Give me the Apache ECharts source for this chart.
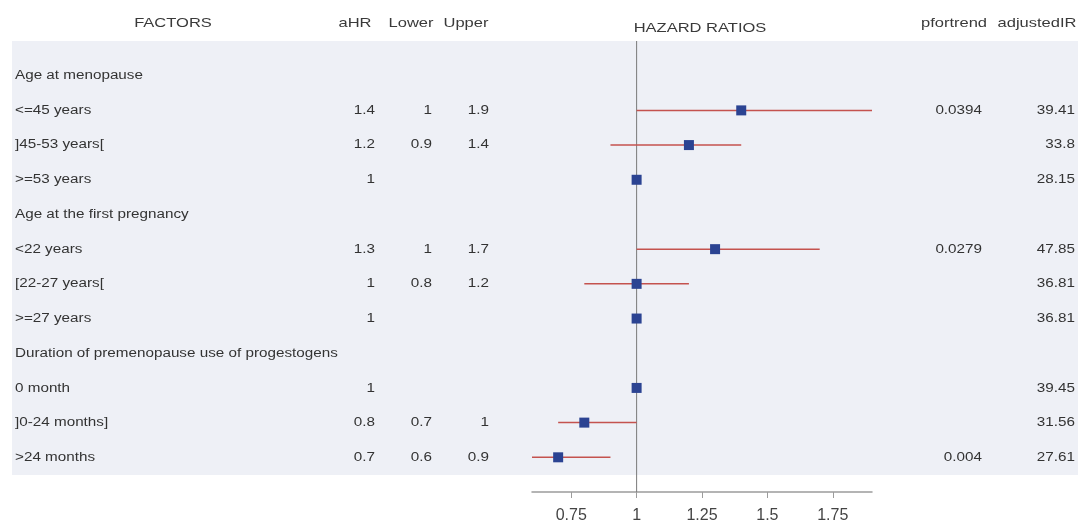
<!DOCTYPE html>
<html>
<head>
<meta charset="utf-8">
<title>Hazard ratios</title>
<script src="https://cdn.jsdelivr.net/npm/echarts@6/dist/echarts.min.js"></script>
<style>
  html, body { margin: 0; padding: 0; background: #fff; }
  #chart { width: 1083px; height: 528px; }
</style>
</head>
<body>
<div id="chart"></div>
<script>
// table rows, top to bottom (row 1 = first line inside the panel)
const factors = [
  'Age at menopause',
  '<=45 years',
  ']45-53 years[',
  '>=53 years',
  'Age at the first pregnancy',
  '<22 years',
  '[22-27 years[',
  '>=27 years',
  'Duration of premenopause use of progestogens',
  '0 month',
  ']0-24 months]',
  '>24 months',
];
const aHR = [null, 1.4, 1.2, 1, null, 1.3, 1, 1, null, 1, 0.8, 0.7];
const lower = [null, 1, 0.9, null, null, 1, 0.8, null, null, null, 0.7, 0.6];
const upper = [null, 1.9, 1.4, null, null, 1.7, 1.2, null, null, null, 1, 0.9];
const pForTrend = [null, 0.0394, null, null, null, 0.0279, null, null, null, null, null, 0.004];
const adjustedIR = [null, 39.41, 33.8, 28.15, null, 47.85, 36.81, 36.81, null, 39.45, 31.56, 27.61];
const xTicks = [0.75, 1, 1.25, 1.5, 1.75];
const refValue = 1;

const FONT = '"Liberation Sans", Arial, sans-serif';
const STRETCH = 1.27;
const TEXT_COLOR = '#333';

const rowOf = (i) => i + 1;

// one column of text on the panel grid (x axis there is in page pixels)
const textColumn = (values, x, align) => {
  const items = [];
  const texts = [];
  values.forEach((v, i) => {
    if (v === null) return;
    items.push([x, rowOf(i)]);
    texts.push(String(v));
  });
  return {
    type: 'custom',
    xAxisIndex: 0,
    yAxisIndex: 0,
    silent: true,
    z: 2,
    data: items,
    renderItem: (params, api) => {
      const p = api.coord([api.value(0), api.value(1)]);
      return {
        type: 'text',
        x: p[0],
        y: p[1],
        scaleX: STRETCH,
        style: {
          text: texts[params.dataIndex],
          fontSize: 12,
          fontFamily: FONT,
          fill: TEXT_COLOR,
          align,
          verticalAlign: 'middle',
        },
      };
    },
  };
};

const header = (text, x, y) => ({
  type: 'text',
  x,
  y,
  scaleX: STRETCH,
  silent: true,
  style: {
    text,
    fontSize: 13,
    fontFamily: FONT,
    fill: '#3a3a3a',
    align: 'center',
    verticalAlign: 'middle',
  },
});

const pointData = [];
const ciData = [];
aHR.forEach((v, i) => {
  if (v !== null) pointData.push([v, rowOf(i)]);
  if (lower[i] !== null) ciData.push([lower[i], upper[i], rowOf(i)]);
});

const chart = echarts.init(document.getElementById('chart'));

chart.setOption({
  animation: false,
  backgroundColor: '#fff',
  grid: [
    {
      // shaded table panel
      left: 12,
      right: 5,
      top: 41,
      bottom: 53,
      show: true,
      backgroundColor: '#eef0f6',
      borderWidth: 0,
      containLabel: false,
      outerBoundsMode: 'none',
    },
    {
      // forest plot
      left: 532,
      right: 211,
      top: 41,
      bottom: 36,
      containLabel: false,
      outerBoundsMode: 'none',
    },
  ],
  xAxis: [
    { type: 'value', gridIndex: 0, min: 12, max: 1078, show: false },
    {
      type: 'value',
      gridIndex: 1,
      position: 'bottom',
      min: 0.6,
      max: 1.9,
      splitLine: { show: false },
      axisLine: { show: true, onZero: false, lineStyle: { color: '#9c9c9c', width: 1.5 } },
      axisTick: {
        show: true,
        length: 6,
        customValues: xTicks,
        lineStyle: { color: '#9c9c9c' },
      },
      axisLabel: {
        customValues: xTicks,
        margin: 16,
        fontSize: 16,
        fontFamily: FONT,
        color: '#444',
      },
    },
  ],
  yAxis: [
    { type: 'value', gridIndex: 0, inverse: true, min: 0, max: 12.5, show: false },
    { type: 'value', gridIndex: 1, inverse: true, min: 0, max: 13, show: false },
  ],
  graphic: [
    header('FACTORS', 173, 23),
    header('aHR', 355, 23),
    header('Lower', 411, 23),
    header('Upper', 466, 23),
    header('HAZARD RATIOS', 700, 28),
    header('pfortrend', 954, 23),
    header('adjustedIR', 1037, 23),
  ],
  series: [
    textColumn(factors, 15, 'left'),
    textColumn(aHR, 375, 'right'),
    textColumn(lower, 432, 'right'),
    textColumn(upper, 489, 'right'),
    textColumn(pForTrend, 982, 'right'),
    textColumn(adjustedIR, 1075, 'right'),
    {
      // reference line at HR = 1
      type: 'custom',
      xAxisIndex: 1,
      yAxisIndex: 1,
      silent: true,
      z: 1,
      data: [[refValue]],
      renderItem: (params, api) => {
        const top = api.coord([api.value(0), 0]);
        const bottom = api.coord([api.value(0), 13]);
        return {
          type: 'line',
          shape: { x1: top[0], y1: top[1], x2: bottom[0], y2: bottom[1] },
          style: { stroke: '#7a7a7a', lineWidth: 1 },
        };
      },
    },
    {
      type: 'custom',
      name: 'CI',
      xAxisIndex: 1,
      yAxisIndex: 1,
      silent: true,
      z: 2,
      encode: { x: [0, 1], y: 2 },
      data: ciData,
      renderItem: (params, api) => {
        const a = api.coord([api.value(0), api.value(2)]);
        const b = api.coord([api.value(1), api.value(2)]);
        return {
          type: 'line',
          shape: { x1: a[0], y1: a[1], x2: b[0], y2: b[1] },
          style: { stroke: '#c4524e', lineWidth: 1.5 },
        };
      },
    },
    {
      type: 'scatter',
      name: 'aHR',
      xAxisIndex: 1,
      yAxisIndex: 1,
      silent: true,
      z: 3,
      symbol: 'rect',
      symbolSize: 10,
      itemStyle: { color: '#2b4392', opacity: 1 },
      data: pointData,
    },
  ],
});

window.addEventListener('resize', () => chart.resize());
</script>
</body>
</html>
